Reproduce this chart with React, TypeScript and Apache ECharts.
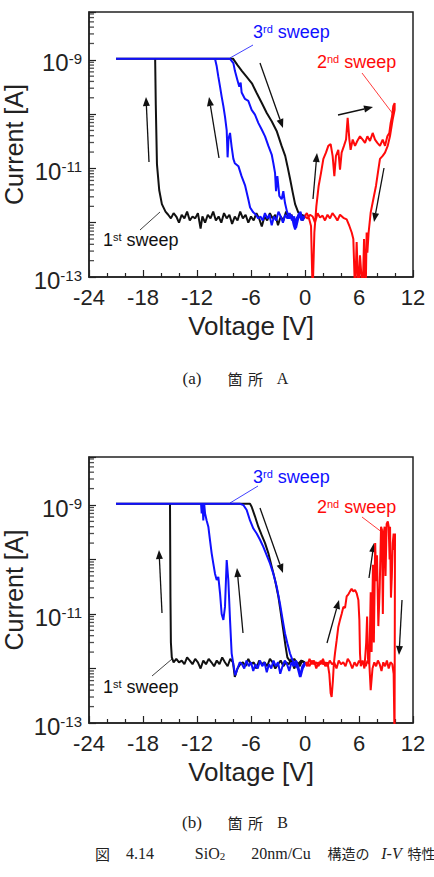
import React, { useEffect, useRef } from 'react';
import * as echarts from 'echarts';

const SANS = "'Liberation Sans', Arial, sans-serif";
const SERIF = "'Liberation Serif', 'Noto Sans CJK JP', serif";
const CJK = "'Noto Sans CJK JP', 'Liberation Serif', serif";

const X_MIN = -24;
const X_MAX = 12;
const X_INTERVAL = 6;
const Y_MIN = 1e-13;
const Y_MAX = 7.6e-9;

// ---------- (a) location A : [voltage V, current A] ----------
const sweep1A: [number, number][] = [
  [0, 1.3e-12], [-0.3, 1.1e-12], [-0.6, 1.5e-12], [-0.9, 1.2e-12], [-1.2, 1.0e-12], [-1.5, 1.4e-12],
  [-1.8, 1.2e-12], [-2.1, 1.6e-12], [-2.4, 1.1e-12], [-2.7, 1.3e-12], [-3.0, 9e-13], [-3.3, 1.4e-12],
  [-3.6, 1.2e-12], [-3.9, 1.5e-12], [-4.2, 1.1e-12], [-4.5, 1.3e-12], [-4.8, 8.5e-13], [-5.1, 1.2e-12],
  [-5.4, 1.5e-12], [-5.7, 1.1e-12], [-6.0, 1.3e-12], [-6.3, 1.0e-12], [-6.6, 1.4e-12], [-6.9, 1.2e-12],
  [-7.2, 1.6e-12], [-7.5, 1.1e-12], [-7.8, 1.3e-12], [-8.1, 9.5e-13], [-8.4, 1.4e-12], [-8.7, 1.2e-12],
  [-9.0, 1.5e-12], [-9.3, 1.0e-12], [-9.6, 1.3e-12], [-9.9, 1.1e-12], [-10.2, 1.6e-12], [-10.5, 1.2e-12],
  [-10.8, 1.4e-12], [-11.1, 1.0e-12], [-11.4, 1.3e-12], [-11.6, 7.8e-13], [-11.9, 1.5e-12], [-12.2, 1.2e-12],
  [-12.5, 1.3e-12], [-12.8, 1.1e-12], [-13.1, 1.6e-12], [-13.4, 1.2e-12], [-13.7, 1.4e-12], [-14.0, 1.0e-12],
  [-14.3, 1.3e-12], [-14.6, 1.5e-12], [-14.9, 1.2e-12], [-15.2, 1.4e-12], [-15.5, 1.6e-12], [-15.9, 2.2e-12],
  [-16.2, 4e-12], [-16.45, 1.2e-11], [-16.58, 1.5e-10], [-16.65, 1.05e-9], [-21, 1.05e-9], [-8.0, 1.05e-9],
  [-7.5, 8.0e-10], [-7.0, 6.2e-10], [-6.5, 4.9e-10], [-5.9, 3.7e-10], [-5.4, 2.5e-10], [-4.8, 1.6e-10],
  [-4.25, 1.05e-10], [-3.7, 7.4e-11], [-3.15, 4.9e-11], [-2.6, 2.6e-11], [-2.2, 1.7e-11], [-1.95, 1.1e-11],
  [-1.65, 6.3e-12], [-1.35, 3.5e-12], [-1.1, 2.2e-12], [-0.75, 1.55e-12], [-0.4, 1.4e-12], [0, 1.3e-12],
];

const sweep2A: [number, number][] = [
  [0, 1.33e-12], [0.2, 1.5e-12], [0.41, 1.26e-12], [0.67, 8.7e-13], [0.85, 5e-14], [1.04, 6.6e-13],
  [1.26, 2.0e-12], [1.52, 4.8e-12], [1.78, 8.3e-12], [2.04, 1.5e-11], [2.33, 1.95e-11], [2.59, 2.6e-11],
  [2.85, 2.8e-11], [3.07, 1.7e-11], [3.26, 7.2e-12], [3.44, 1.7e-11], [3.7, 2.2e-11], [3.89, 9.5e-12],
  [4.07, 1.95e-11], [4.33, 2.6e-11], [4.56, 3.4e-11], [4.74, 8.5e-11], [4.93, 3.4e-11], [5.07, 2.2e-11],
  [5.3, 3.4e-11], [5.56, 2.6e-11], [5.81, 3.2e-11], [6.11, 3.9e-11], [6.41, 3.4e-11], [6.67, 2.95e-11],
  [6.93, 3.9e-11], [7.22, 3.2e-11], [7.52, 4.5e-11], [7.78, 3.4e-11], [8.04, 2.95e-11], [8.33, 2.6e-11],
  [8.63, 3.4e-11], [8.89, 2.6e-11], [9.15, 3.9e-11], [9.37, 4.5e-11], [9.52, 6.9e-11], [9.67, 9.1e-11],
  [9.81, 1.4e-10], [9.96, 1.6e-10],
  [9.96, 1.2e-10], [9.74, 7.9e-11], [9.44, 3.9e-11], [9.19, 2.6e-11], [8.89, 1.95e-11], [8.63, 1.7e-11],
  [8.33, 1.5e-11], [8.15, 9.5e-12], [7.89, 4.8e-12], [7.59, 2.7e-12], [7.3, 1.55e-12], [7.07, 6.6e-13],
  [6.93, 2.8e-13], [6.85, 6.6e-13], [6.74, 5e-14], [6.56, 5e-13], [6.41, 5e-14], [6.11, 2.5e-13],
  [5.93, 5e-14], [5.74, 4.4e-13], [5.56, 5e-14], [5.37, 5e-13], [5.19, 6.6e-13], [4.93, 8.7e-13],
  [4.63, 1.15e-12], [4.26, 1.23e-12], [3.89, 1.4e-12], [3.6, 1.1e-12], [3.33, 1.3e-12], [3.05, 1.5e-12],
  [2.78, 1.2e-12], [2.5, 1.4e-12], [2.22, 1.1e-12], [1.95, 1.35e-12], [1.67, 1.25e-12], [1.4, 1.5e-12],
  [1.11, 1.0e-12], [0.85, 1.3e-12], [0.56, 1.4e-12], [0.28, 1.2e-12], [0, 1.3e-12],
];

const sweep3A: [number, number][] = [
  [0, 1.4e-12], [-0.25, 1.1e-12], [-0.5, 1.6e-12], [-0.75, 1.2e-12], [-1.0, 8e-13], [-1.2, 1.3e-12],
  [-1.45, 1.1e-12], [-1.7, 1.5e-12], [-1.95, 1.2e-12], [-2.2, 1.4e-12], [-2.45, 1.0e-12], [-2.7, 1.3e-12],
  [-2.95, 1.6e-12], [-3.2, 1.1e-12], [-3.45, 1.3e-12], [-3.7, 9e-13], [-3.95, 1.4e-12], [-4.2, 1.2e-12],
  [-4.45, 1.5e-12], [-4.7, 1.1e-12], [-4.95, 1.3e-12], [-5.2, 1.2e-12], [-5.45, 1.4e-12],
  [-5.75, 1.55e-12], [-6.1, 1.9e-12], [-6.3, 2.7e-12], [-6.65, 4.8e-12], [-7.05, 7.2e-12], [-7.4, 1.1e-11],
  [-7.8, 1.25e-11], [-7.96, 1.5e-11], [-8.15, 2.5e-11], [-8.33, 4.5e-11], [-8.5, 3.5e-11], [-8.6, 1.6e-11],
  [-8.7, 5e-11], [-8.89, 9e-11], [-9.07, 1.4e-10], [-9.26, 2.1e-10], [-9.44, 3.2e-10], [-9.63, 4.9e-10],
  [-9.81, 7.6e-10], [-10.0, 1.05e-9], [-21, 1.05e-9], [-8.35, 1.05e-9],
  [-7.96, 8.7e-10], [-7.78, 6.2e-10], [-7.52, 4.3e-10], [-7.3, 3.2e-10], [-7.15, 3.8e-10], [-7.04, 2.5e-10],
  [-6.67, 1.9e-10], [-6.3, 1.75e-10], [-5.93, 1.2e-10], [-5.56, 9.8e-11], [-5.19, 6.9e-11], [-4.81, 5.2e-11],
  [-4.44, 3.9e-11], [-4.07, 2.6e-11], [-3.7, 1.8e-11], [-3.52, 1.26e-11], [-3.33, 8.3e-12], [-3.22, 3.8e-12],
  [-3.07, 7.2e-12], [-2.85, 3.1e-12], [-2.59, 2.7e-12], [-2.41, 3.8e-12], [-2.22, 2.3e-12], [-2.0, 1.6e-12],
  [-1.75, 1.2e-12], [-1.5, 1.4e-12], [-1.25, 9e-13], [-1.1, 7.5e-13], [-0.9, 1.2e-12], [-0.65, 1.5e-12],
  [-0.4, 1.1e-12], [-0.2, 1.3e-12], [0, 1.2e-12],
];

// ---------- (b) location B ----------
const sweep1B: [number, number][] = [
  [0, 1.2e-12], [-0.3, 1.4e-12], [-0.6, 1.1e-12], [-0.9, 1.3e-12], [-1.2, 1.0e-12], [-1.5, 1.5e-12],
  [-1.8, 1.2e-12], [-2.1, 1.3e-12], [-2.4, 1.1e-12], [-2.7, 1.4e-12], [-3.0, 1.2e-12], [-3.3, 1.0e-12],
  [-3.6, 1.3e-12], [-3.9, 1.5e-12], [-4.2, 1.1e-12], [-4.5, 1.3e-12], [-4.8, 1.2e-12], [-5.1, 1.4e-12],
  [-5.4, 1.0e-12], [-5.7, 1.3e-12], [-6.0, 1.2e-12], [-6.3, 1.5e-12], [-6.6, 1.1e-12], [-6.9, 1.3e-12],
  [-7.2, 1.2e-12], [-7.5, 1.0e-12], [-7.8, 7e-13], [-8.0, 1.3e-12], [-8.3, 1.5e-12], [-8.6, 1.1e-12],
  [-8.9, 1.3e-12], [-9.2, 1.6e-12], [-9.5, 1.2e-12], [-9.8, 1.4e-12], [-10.1, 1.1e-12], [-10.4, 1.3e-12],
  [-10.7, 1.5e-12], [-11.0, 1.2e-12], [-11.3, 1.4e-12], [-11.6, 1.0e-12], [-11.9, 1.3e-12], [-12.2, 1.5e-12],
  [-12.5, 1.2e-12], [-12.8, 1.4e-12], [-13.1, 1.6e-12], [-13.4, 1.2e-12], [-13.7, 1.4e-12], [-14.0, 1.3e-12],
  [-14.3, 1.5e-12], [-14.6, 1.3e-12], [-14.8, 1.6e-12], [-14.9, 3e-12], [-14.95, 2e-11], [-15.0, 1.05e-9],
  [-21, 1.05e-9], [-6.11, 1.05e-9],
  [-5.93, 9.3e-10], [-5.56, 6.2e-10], [-5.19, 4.0e-10], [-4.81, 2.8e-10], [-4.44, 2.0e-10], [-4.07, 1.3e-10],
  [-3.7, 7.4e-11], [-3.33, 4.2e-11], [-2.96, 2.1e-11], [-2.67, 1.0e-11], [-2.41, 5.0e-12], [-2.15, 2.5e-12],
  [-1.96, 1.6e-12], [-1.6, 1.3e-12], [-1.2, 1.5e-12], [-0.8, 1.2e-12], [-0.4, 1.4e-12], [0, 1.3e-12],
];

const sweep2B: [number, number][] = [
  [0, 1.3e-12], [0.25, 1.1e-12], [0.5, 1.5e-12], [0.75, 1.2e-12], [1.0, 1.4e-12], [1.25, 1.0e-12],
  [1.5, 1.3e-12], [1.75, 1.2e-12], [2.0, 1.5e-12], [2.25, 1.1e-12], [2.5, 1.3e-12], [2.7, 8e-13],
  [2.85, 3.5e-13], [2.96, 3e-13], [3.1, 6e-13], [3.2, 1.2e-12], [3.33, 1.9e-12], [3.52, 3.3e-12],
  [3.7, 5.8e-12], [3.89, 7.8e-12], [4.07, 1.0e-11], [4.26, 1.35e-11], [4.45, 1.3e-11], [4.63, 2.1e-11],
  [4.82, 2.3e-11], [5.0, 2.6e-11], [5.18, 2.9e-11], [5.37, 2.6e-11], [5.56, 2.75e-11], [5.74, 2.4e-11],
  [5.93, 1.8e-11], [6.04, 7.8e-12], [6.11, 1.9e-12], [6.2, 1.1e-12], [6.4, 1.4e-12], [6.6, 1.0e-12],
  [6.8, 3e-12], [6.9, 9e-12], [7.0, 1.5e-12], [7.15, 1.2e-12], [7.3, 2.5e-11], [7.4, 2e-12],
  [7.55, 8e-11], [7.65, 3e-12], [7.8, 2e-10], [7.9, 4e-11], [8.0, 1.2e-10], [8.15, 6e-12],
  [8.3, 3e-11], [8.45, 4e-10], [8.55, 3.5e-10], [8.65, 1e-11], [8.75, 3e-10], [8.85, 4e-10],
  [8.95, 5e-11], [9.07, 4.5e-10], [9.2, 5e-10], [9.3, 4e-10], [9.4, 1e-10], [9.45, 4e-10],
  [9.55, 2e-11], [9.65, 5e-11], [9.75, 2e-10], [9.85, 3e-10], [9.95, 1.5e-10], [10.0, 3e-10],
  [9.95, 5e-14], [9.85, 8e-13], [9.7, 1.2e-12], [9.5, 1.3e-12], [9.3, 1.0e-12], [9.1, 1.4e-12],
  [8.9, 1.1e-12], [8.7, 1.3e-12], [8.5, 9e-13], [8.3, 1.2e-12], [8.1, 1.4e-12], [7.9, 1.1e-12],
  [7.7, 1.3e-12], [7.5, 1.0e-12], [7.3, 4e-13], [7.15, 1.2e-12], [6.95, 1.4e-12], [6.75, 1.1e-12],
  [6.5, 1.3e-12], [6.25, 1.2e-12], [6.0, 1.4e-12], [5.75, 1.1e-12], [5.5, 1.3e-12], [5.25, 1.0e-12],
  [5.0, 1.3e-12], [4.75, 1.5e-12], [4.5, 1.1e-12], [4.25, 1.3e-12], [4.0, 1.2e-12], [3.75, 1.4e-12],
  [3.5, 1.0e-12], [3.25, 1.3e-12], [3.0, 1.2e-12], [2.75, 1.4e-12], [2.5, 1.1e-12], [2.25, 1.3e-12],
  [2.0, 1.2e-12], [1.75, 1.4e-12], [1.5, 1.1e-12], [1.25, 1.3e-12], [1.0, 1.2e-12], [0.75, 1.4e-12],
  [0.5, 1.1e-12], [0.25, 1.3e-12], [0, 1.2e-12],
];

const sweep3B: [number, number][] = [
  [0, 1.2e-12], [-0.25, 1.0e-12], [-0.5, 7e-13], [-0.75, 1.1e-12], [-1.0, 1.4e-12], [-1.25, 1.1e-12],
  [-1.5, 1.3e-12], [-1.75, 9e-13], [-2.0, 1.2e-12], [-2.25, 1.4e-12], [-2.5, 1.1e-12], [-2.75, 8e-13],
  [-3.0, 1.3e-12], [-3.25, 1.1e-12], [-3.5, 1.4e-12], [-3.75, 1.0e-12], [-4.0, 1.2e-12], [-4.25, 8.5e-13],
  [-4.5, 1.3e-12], [-4.75, 1.1e-12], [-5.0, 1.4e-12], [-5.25, 1.0e-12], [-5.5, 1.2e-12], [-5.75, 9e-13],
  [-6.0, 1.3e-12], [-6.25, 1.1e-12], [-6.5, 1.4e-12], [-6.75, 1.0e-12], [-7.0, 1.2e-12], [-7.25, 1.3e-12],
  [-7.5, 1.0e-12], [-7.75, 7.5e-13], [-7.96, 1.2e-12],
  [-8.15, 1.9e-12], [-8.33, 7.8e-12], [-8.52, 4.2e-11], [-8.7, 9.8e-11], [-8.89, 1.35e-11], [-9.07, 7.8e-12],
  [-9.26, 1.0e-11], [-9.44, 2.4e-11], [-9.63, 4.8e-11], [-9.81, 4.2e-11], [-10.0, 5.5e-11], [-10.19, 8.5e-11],
  [-10.37, 1.3e-10], [-10.56, 2.3e-10], [-10.74, 4.0e-10], [-10.93, 5.2e-10], [-11.11, 7.1e-10], [-11.2, 1.05e-9],
  [-11.3, 5.2e-10], [-11.38, 1.05e-9], [-11.48, 7e-10], [-11.55, 1.05e-9], [-21, 1.05e-9], [-7.2, 1.05e-9],
  [-6.85, 1.0e-9], [-6.48, 8.1e-10], [-6.11, 5.2e-10], [-5.74, 3.7e-10], [-5.37, 3.0e-10], [-5.0, 2.3e-10],
  [-4.63, 1.7e-10], [-4.26, 1.2e-10], [-3.89, 8.5e-11], [-3.52, 5.5e-11], [-3.15, 3.2e-11], [-2.78, 1.55e-11],
  [-2.48, 7.8e-12], [-2.22, 4.4e-12], [-1.96, 2.9e-12], [-1.67, 1.9e-12], [-1.37, 1.4e-12], [-1.11, 1.2e-12],
  [-0.8, 1.0e-12], [-0.56, 7e-13], [-0.3, 1.1e-12], [0, 1.3e-12],
];

// ---------- layout (pixels) ----------
const GRIDS = [
  { left: 89, top: 12, width: 324, height: 265 },
  { left: 89, top: 457, width: 324, height: 266 },
];

// arrows [x1, y1, x2, y2] (tail -> head), in page pixels
const ARROWS: number[][] = [
  [149, 162, 146, 97], [219, 158, 209, 97], [260, 63, 283, 128], [313, 199, 317, 153], [338, 115, 373, 107], [384, 168, 374, 222],
  [162, 613, 159, 550], [243, 633, 237, 568], [260, 508, 283, 573], [327, 643, 339, 600], [369, 578, 374, 543], [402, 600, 399, 655],
];

const BLUE = '#1010ff';
const RED = '#ff0a0a';
const BLACK = '#111';

const LABELS = [
  { main: '3', sup: 'rd', x: 253, y: 32, color: BLUE, leader: [230, 58, 253, 45] },
  { main: '2', sup: 'nd', x: 317, y: 62, color: RED, leader: [362, 73, 393, 114] },
  { main: '1', sup: 'st', x: 103, y: 240, color: BLACK, leader: [140, 230, 160, 212] },
  { main: '3', sup: 'rd', x: 253, y: 477, color: BLUE, leader: [230, 503, 258, 486] },
  { main: '2', sup: 'nd', x: 317, y: 507, color: RED, leader: [362, 517, 383, 533] },
  { main: '1', sup: 'st', x: 103, y: 687, color: BLACK, leader: [152, 676, 172, 659] },
];

function arrowGraphics(a: number[]) {
  const [x1, y1, x2, y2] = a;
  const dx = x2 - x1;
  const dy = y2 - y1;
  const len = Math.sqrt(dx * dx + dy * dy);
  const ux = dx / len;
  const uy = dy / len;
  const L = 9;
  const W = 3.5;
  const bx = x2 - ux * L;
  const by = y2 - uy * L;
  return [
    { type: 'line', shape: { x1, y1, x2: bx, y2: by }, style: { stroke: '#111', lineWidth: 1.3 }, silent: true },
    {
      type: 'polygon',
      shape: { points: [[x2, y2], [bx - uy * W, by + ux * W], [bx + uy * W, by - ux * W]] },
      style: { fill: '#111' },
      silent: true,
    },
  ];
}

function minorLogTicks(): number[] {
  const out: number[] = [];
  for (let e = -13; e <= -9; e++) {
    for (let m = 2; m <= 9; m++) {
      const v = m * Math.pow(10, e);
      if (v < Y_MAX) out.push(v);
    }
  }
  return out;
}

export default function App() {
  const ref = useRef<HTMLDivElement>(null);
  useEffect(() => {
    if (!ref.current) return;
    const chart = echarts.init(ref.current, undefined, { renderer: 'svg' });
    const axisColor = '#222';

    const xAxis = GRIDS.map((_, i) => ({
      type: 'value',
      gridIndex: i,
      min: X_MIN,
      max: X_MAX,
      interval: X_INTERVAL,
      name: 'Voltage [V]',
      nameLocation: 'middle',
      nameGap: 36,
      nameMoveOverlap: false,
      nameTextStyle: { fontSize: 26, fontFamily: SANS, color: axisColor },
      axisLine: { show: true, onZero: false, lineStyle: { color: axisColor, width: 1.5 } },
      axisTick: { show: true, inside: true, length: 7, lineStyle: { color: axisColor, width: 1.2 } },
      minorTick: { show: true, splitNumber: 3, length: 4, lineStyle: { color: axisColor, width: 1.2 } },
      axisLabel: { fontSize: 22, fontFamily: SANS, color: axisColor, margin: 9, hideOverlap: false },
      splitLine: { show: false },
    }));

    const yAxis = GRIDS.map((_, i) => ({
      type: 'log',
      logBase: 10,
      gridIndex: i,
      min: Y_MIN,
      max: Y_MAX,
      name: 'Current [A]',
      nameLocation: 'middle',
      nameGap: 63,
      nameRotate: 90,
      nameMoveOverlap: false,
      nameTextStyle: { fontSize: 25, fontFamily: SANS, color: axisColor },
      axisLine: { show: true, onZero: false, lineStyle: { color: axisColor, width: 1.5 } },
      axisTick: { show: true, inside: true, length: 7, lineStyle: { color: axisColor, width: 1.2 } },
      axisLabel: {
        margin: 7,
        formatter: (v: number) => {
          const e = Math.log10(v);
          const r = Math.round(e);
          if (Math.abs(e - r) > 0.01) return '';
          if (Math.abs(r) % 2 === 0) return '';
          return '{b|10}{s|' + r + '}';
        },
        rich: {
          b: { fontSize: 24, fontFamily: SANS, color: axisColor, padding: [6, 0, 0, 0] },
          s: { fontSize: 15, fontFamily: SANS, color: axisColor, verticalAlign: 'top', padding: [6, 0, 0, 0] },
        },
      },
      splitLine: { show: false },
    }));

    const lineSeries = (data: [number, number][], color: string, gi: number, z: number) => ({
      type: 'line',
      xAxisIndex: gi,
      yAxisIndex: gi,
      data,
      symbol: 'none',
      showSymbol: false,
      clip: true,
      z,
      lineStyle: { color, width: 2 },
      silent: true,
    });

    const minor = minorLogTicks();
    const tickSeries = GRIDS.map((_, i) => ({
      type: 'scatter',
      xAxisIndex: i,
      yAxisIndex: i,
      data: minor.map((v) => [X_MIN, v]),
      symbol: 'rect',
      symbolSize: [5, 1.3],
      symbolOffset: [2.5, 0],
      itemStyle: { color: axisColor },
      clip: false,
      silent: true,
      z: 10,
    }));

    const graphics: any[] = [];
    ARROWS.forEach((a) => graphics.push(...arrowGraphics(a)));
    LABELS.forEach((l) => {
      graphics.push({
        type: 'line',
        shape: { x1: l.leader[0], y1: l.leader[1], x2: l.leader[2], y2: l.leader[3] },
        style: { stroke: l.color, lineWidth: 0.8 },
        silent: true,
      });
      graphics.push({
        type: 'text',
        x: l.x,
        y: l.y,
        style: {
          text: '{m|' + l.main + '}{s|' + l.sup + '}{m| sweep}',
          align: 'left',
          verticalAlign: 'middle',
          fill: l.color,
          rich: {
            m: { fontSize: 18, fontFamily: SANS, fill: l.color, color: l.color },
            s: { fontSize: 11, fontFamily: SANS, fill: l.color, color: l.color, verticalAlign: 'top' },
          },
        },
        silent: true,
      });
    });

    const capText = (text: string, x: number, y: number, font: string, size: number, align = 'center', extra: any = {}) => ({
      type: 'text',
      x,
      y,
      style: { text, fontSize: size, fontFamily: font, fill: '#222', align, verticalAlign: 'middle', ...extra },
      silent: true,
    });

    graphics.push(capText('(a)', 192, 378, SERIF, 17));
    graphics.push(capText('箇', 235, 378, CJK, 15));
    graphics.push(capText('所', 255.5, 378, CJK, 15));
    graphics.push(capText('A', 282.5, 378, SERIF, 16));
    graphics.push(capText('(b)', 192, 822, SERIF, 17));
    graphics.push(capText('箇', 235, 822, CJK, 15));
    graphics.push(capText('所', 255.5, 822, CJK, 15));
    graphics.push(capText('B', 282.5, 822, SERIF, 16));

    graphics.push(capText('図', 102.5, 853, CJK, 15));
    graphics.push(capText('4.14', 140, 853, SERIF, 16));
    graphics.push({
      type: 'text',
      x: 210,
      y: 853,
      style: {
        text: '{n|SiO}{d|2}',
        align: 'center',
        verticalAlign: 'middle',
        fill: '#222',
        rich: {
          n: { fontSize: 16, fontFamily: SERIF, color: '#222', fill: '#222' },
          d: { fontSize: 11, fontFamily: SERIF, color: '#222', fill: '#222', verticalAlign: 'bottom' },
        },
      },
      silent: true,
    });
    graphics.push(capText('20nm/Cu', 281, 853, SERIF, 16));
    graphics.push(capText('構造の', 348.5, 853, CJK, 14));
    graphics.push(capText('I-V', 391.5, 853, SERIF, 16, 'center', { fontStyle: 'italic' }));
    graphics.push(capText('特性', 421.5, 853, CJK, 14));

    chart.setOption({
      animation: false,
      backgroundColor: '#fff',
      grid: GRIDS.map((g) => ({
        ...g,
        show: true,
        borderColor: axisColor,
        borderWidth: 1.5,
        backgroundColor: 'transparent',
        containLabel: false,
        outerBoundsMode: 'none',
      })),
      xAxis,
      yAxis,
      series: [
        lineSeries(sweep1A, BLACK, 0, 2),
        lineSeries(sweep3A, BLUE, 0, 3),
        lineSeries(sweep2A, RED, 0, 4),
        lineSeries(sweep1B, BLACK, 1, 2),
        lineSeries(sweep2B, RED, 1, 3),
        lineSeries(sweep3B, BLUE, 1, 4),
        ...tickSeries,
      ],
      graphic: graphics,
    });
    return () => chart.dispose();
  }, []);

  return <div ref={ref} style={{ position: 'absolute', left: 0, top: 0, width: 434, height: 877 }} />;
}
